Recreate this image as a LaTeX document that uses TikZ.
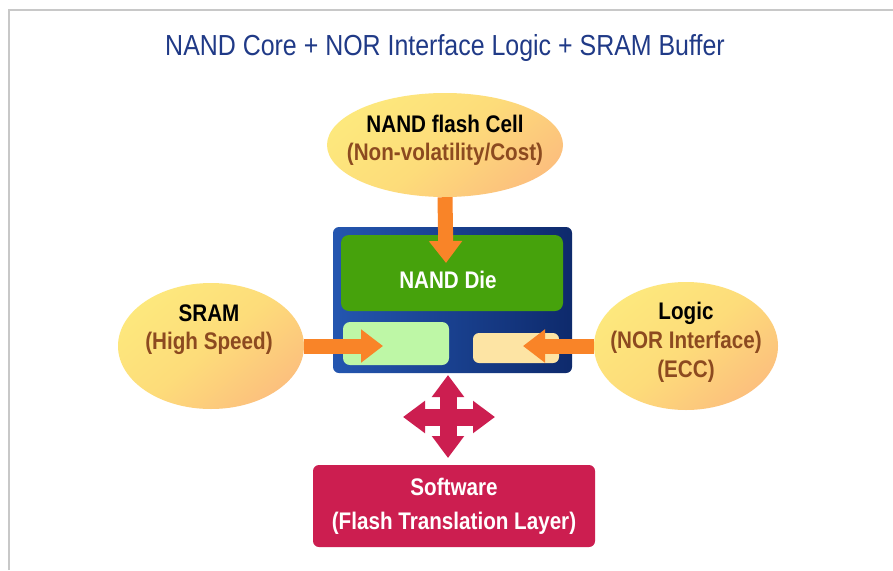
\documentclass[tikz,border=0pt]{standalone}
\usepackage{fontspec}
\setmainfont{Liberation Sans}
\newfontfamily\condfont[FakeStretch=0.86]{Liberation Sans}
\usetikzlibrary{arrows.meta,shapes.geometric}

\definecolor{framegray}{RGB}{200,200,200}
\definecolor{titleblue}{RGB}{32,58,135}
\definecolor{ellyellow}{RGB}{253,232,125}
\definecolor{ellmid}{RGB}{253,220,122}
\definecolor{ellorange}{RGB}{252,192,125}
\definecolor{subbrown}{RGB}{140,74,32}
\definecolor{feedorange}{RGB}{249,132,40}
\definecolor{chipblueL}{RGB}{36,86,176}
\definecolor{chipblueR}{RGB}{14,42,108}
\definecolor{diegreen}{RGB}{70,162,12}
\definecolor{sramgreen}{RGB}{190,247,166}
\definecolor{logicpeach}{RGB}{253,228,164}
\definecolor{swcrimson}{RGB}{204,30,80}

\tikzset{
  blob/.style={ellipse, inner sep=0pt, top color=ellyellow, bottom color=ellorange,
    middle color=ellmid, shading angle=40},
  blobtext/.style={font=\condfont\bfseries\fontsize{24}{28}\selectfont, align=center, inner sep=0pt},
  feed/.style={draw=feedorange, line width=15pt,
    -{Triangle[length=22pt 0 0, width=32pt 0 0]}},
  xarrow/.style={draw=swcrimson, line width=17pt,
    {Triangle[length=22pt 0 0, width=31pt 0 0]}-{Triangle[length=22pt 0 0, width=31pt 0 0]}},
  panel/.style={rectangle, inner sep=0pt},
}

\begin{document}
\begin{tikzpicture}[x=1pt,y=-1pt]
\useasboundingbox (0,0) rectangle (893,570);
\fill[white] (0,0) rectangle (893,570);
% page frame
\draw[framegray, line width=2pt] (8.5,570) |- (893,9.5);

% title
\node[font=\condfont\fontsize{29}{33}\selectfont, text=titleblue, inner sep=0pt] (title) at (445,48)
  {NAND Core + NOR Interface Logic + SRAM Buffer};

% chip package
\node[panel, minimum width=239pt, minimum height=146pt, rounded corners=6pt,
  left color=chipblueL, right color=chipblueR] (chip) at (452.5,300) {};
\node[panel, minimum width=222pt, minimum height=76pt, rounded corners=8pt, fill=diegreen] (die) at (452,273) {};
\node[font=\condfont\bfseries\fontsize{24}{28}\selectfont, text=white, inner sep=0pt] (dielabel) at (448,280) {NAND Die};
\node[panel, minimum width=106pt, minimum height=43pt, rounded corners=7pt, fill=sramgreen] (srambox) at (396,343.5) {};
\node[panel, minimum width=86pt, minimum height=30pt, rounded corners=6pt, fill=logicpeach] (logicbox) at (516,348) {};

% feature bubbles
\node[blob, minimum width=236pt, minimum height=104pt] (cell) at (445,145) {};
\node[blobtext] (celltext) at (445,140) {NAND flash Cell\\\textcolor{subbrown}{(Non-volatility/Cost)}};

\node[blob, minimum width=186pt, minimum height=126pt] (sram) at (211,346) {};
\node[blobtext] (sramtext) at (209,330) {SRAM\\\textcolor{subbrown}{(High Speed)}};

\node[blob, minimum width=184pt, minimum height=128pt] (logic) at (686,346) {};
\node[blobtext, font=\condfont\bfseries\fontsize{24}{29}\selectfont] (logictext) at (686,342)
  {Logic\\\textcolor{subbrown}{(NOR Interface)}\\\textcolor{subbrown}{(ECC)}};

% feed arrows into the chip
\coordinate (dietip) at (446,263);
\coordinate (sramtip) at (383,346);
\coordinate (logictip) at (523,346);
\draw[feed] (cell.south) -- (dietip);
\draw[feed] (sram.east) -- (sramtip);
\draw[feed] (logic.west) -- (logictip);

% software layer and four-way arrow
\node[panel, minimum width=282pt, minimum height=82pt, rounded corners=6pt, fill=swcrimson,
  text=white, align=center, font=\condfont\bfseries\fontsize{24}{34}\selectfont] (sw) at (454,506)
  {Software\\(Flash Translation Layer)};
\coordinate (xl) at (403,417);
\coordinate (xr) at (495,417);
\coordinate (xt) at (448,375);
\coordinate (xb) at (448,458);
\draw[xarrow] (xl) -- (xr);
\draw[xarrow] (xt) -- (xb);
\end{tikzpicture}
\end{document}
